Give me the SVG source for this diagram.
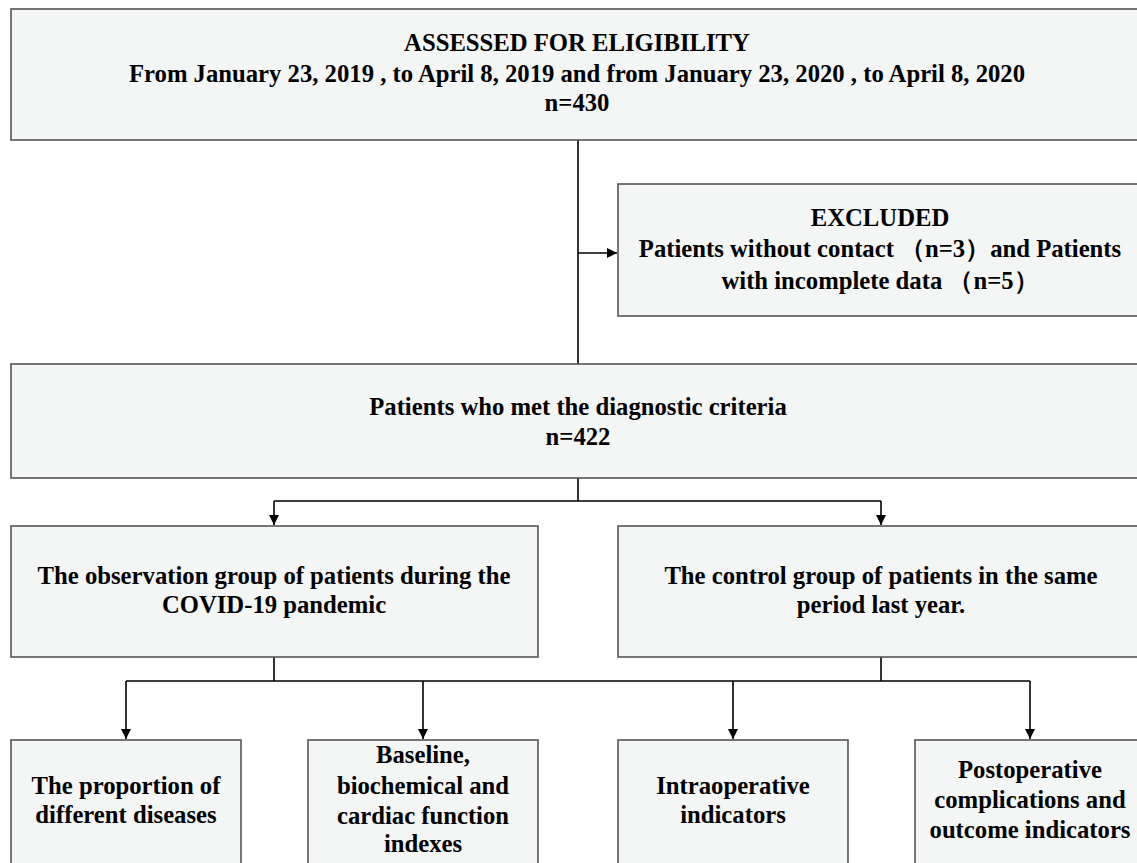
<svg xmlns="http://www.w3.org/2000/svg" width="1137" height="863" viewBox="0 0 1137 863">
<style>
.box{fill:#f4f5f5;stroke:#555;stroke-width:1.6}
.t{font-family:"Liberation Serif","Times New Roman",serif;font-weight:bold;font-size:24.7px;fill:#000;text-anchor:middle}
.ln{fill:none;stroke:#000;stroke-width:1.6}
</style>
<defs>
<marker id="ah" viewBox="0 0 10 10" refX="10" refY="5" markerWidth="10" markerHeight="10" markerUnits="userSpaceOnUse" orient="auto">
<path d="M0,0 L10,5 L0,10 Z" fill="#000"/>
</marker>
</defs>
<g id="connectors">
<path class="ln" d="M578,140 V364"/>
<path class="ln" d="M578,253 H617" marker-end="url(#ah)"/>
<path class="ln" d="M578,478 V501 M274,501 H881"/>
<path class="ln" d="M274,501 V525" marker-end="url(#ah)"/>
<path class="ln" d="M881,501 V525" marker-end="url(#ah)"/>
<path class="ln" d="M274,657 V681 M881,657 V681 M126,681 H1030"/>
<path class="ln" d="M126,681 V739" marker-end="url(#ah)"/>
<path class="ln" d="M423,681 V739" marker-end="url(#ah)"/>
<path class="ln" d="M733,681 V739" marker-end="url(#ah)"/>
<path class="ln" d="M1030,681 V739" marker-end="url(#ah)"/>
</g>
<g id="assessed">
<rect class="box" x="11" y="9" width="1140" height="131"/>
<text class="t" x="577" y="51">ASSESSED FOR ELIGIBILITY</text>
<text class="t" x="577" y="82">From January 23, 2019 , to April 8, 2019 and from January 23, 2020 , to April 8, 2020</text>
<text class="t" x="577" y="111">n=430</text>
</g>
<g id="excluded">
<rect class="box" x="618" y="184" width="530" height="132"/>
<text class="t" x="880" y="226">EXCLUDED</text>
<text class="t" x="880" y="257">Patients without contact （n=3）and Patients</text>
<text class="t" x="880" y="289">with incomplete data （n=5）</text>
</g>
<g id="met">
<rect class="box" x="11" y="364" width="1140" height="114"/>
<text class="t" x="578" y="415">Patients who met the diagnostic criteria</text>
<text class="t" x="578" y="445">n=422</text>
</g>
<g id="observation">
<rect class="box" x="11" y="526" width="527" height="131"/>
<text class="t" x="274" y="584">The observation group of patients during the</text>
<text class="t" x="274" y="613">COVID-19 pandemic</text>
</g>
<g id="control">
<rect class="box" x="618" y="526" width="530" height="131"/>
<text class="t" x="881" y="584">The control group of patients in the same</text>
<text class="t" x="881" y="613">period last year.</text>
</g>
<g id="proportion">
<rect class="box" x="11" y="740" width="230" height="140"/>
<text class="t" x="126" y="794">The proportion of</text>
<text class="t" x="126" y="823">different diseases</text>
</g>
<g id="baseline">
<rect class="box" x="308" y="740" width="230" height="140"/>
<text class="t" x="423" y="763">Baseline,</text>
<text class="t" x="423" y="794">biochemical and</text>
<text class="t" x="423" y="824">cardiac function</text>
<text class="t" x="423" y="852">indexes</text>
</g>
<g id="intraoperative">
<rect class="box" x="618" y="740" width="230" height="140"/>
<text class="t" x="733" y="794">Intraoperative</text>
<text class="t" x="733" y="823">indicators</text>
</g>
<g id="postoperative">
<rect class="box" x="915" y="740" width="240" height="140"/>
<text class="t" x="1030" y="778">Postoperative</text>
<text class="t" x="1030" y="808">complications and</text>
<text class="t" x="1030" y="838">outcome indicators</text>
</g>
</svg>
